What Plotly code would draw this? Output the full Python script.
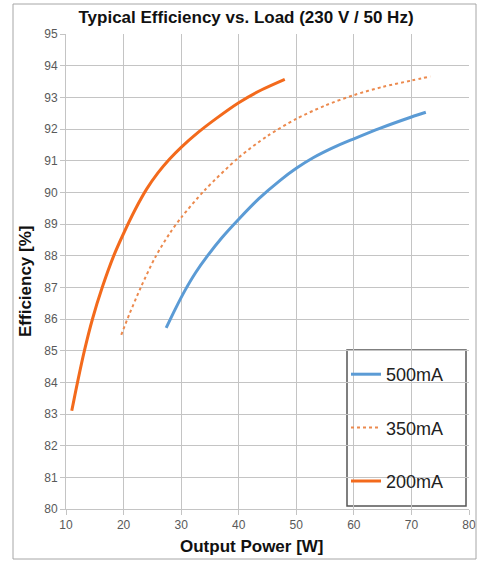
import plotly.graph_objects as go

# ---- data ----
x_500 = [27.4, 29, 30.6, 32.5, 34.6, 37, 40, 43.5, 47.2, 50, 53, 56.5, 60, 64.5, 70, 72.5]
y_500 = [85.72, 86.32, 86.88, 87.46, 88.0, 88.55, 89.15, 89.8, 90.38, 90.76, 91.1, 91.42, 91.69, 92.02, 92.38, 92.53]

x_350 = [19.6, 21, 23, 25.5, 28, 30, 34, 40, 45, 50, 55, 60, 65, 70, 73.3]
y_350 = [85.5, 86.15, 87.0, 87.95, 88.7, 89.2, 90.05, 91.1, 91.78, 92.32, 92.74, 93.07, 93.33, 93.53, 93.66]

x_200 = [11.0, 12.0, 13.2, 14.6, 16.3, 18.3, 20, 22, 24, 26, 28, 30, 33, 36, 40, 44, 48]
y_200 = [83.1, 84.0, 85.0, 86.0, 87.0, 88.0, 88.7, 89.45, 90.1, 90.62, 91.05, 91.42, 91.9, 92.32, 92.83, 93.24, 93.57]

series_names = ["500mA", "350mA", "200mA"]
x_ticks = [10, 20, 30, 40, 50, 60, 70, 80]
y_ticks = list(range(80, 96))

title_text = "Typical Efficiency vs. Load (230 V / 50 Hz)"
x_title = "Output Power [W]"
y_title = "Efficiency [%]"

# ---- figure ----
W, H = 478, 561
ML, MR, MT, MB = 66, 9, 34, 52
PW, PH = W - ML - MR, H - MT - MB

def px_x(p):
    return (p - ML) / PW

def px_y(p):
    return (H - MB - p) / PH

fig = go.Figure()
fig.add_trace(go.Scatter(x=x_500, y=y_500, mode="lines", name=series_names[0],
                         legendgroup="a",
                         line=dict(color="#5b9bd5", width=3, shape="spline", smoothing=0.8)))
fig.add_trace(go.Scatter(x=x_350, y=y_350, mode="lines", name=series_names[1],
                         legendgroup="b",
                         line=dict(color="#ec8a4e", width=2, dash="dot", shape="spline", smoothing=0.8)))
fig.add_trace(go.Scatter(x=x_200, y=y_200, mode="lines", name=series_names[2],
                         legendgroup="c",
                         line=dict(color="#f36a1c", width=3, shape="spline", smoothing=0.8)))

axis_common = dict(
    showgrid=True, gridcolor="#c4c4c4", gridwidth=1,
    showline=True, linecolor="#c4c4c4", linewidth=1,
    ticks="outside", ticklen=5, tickcolor="#c4c4c4",
    tickfont=dict(family="Liberation Sans", size=12, color="#595959"),
    zeroline=False, automargin=False,
)

fig.update_xaxes(range=[10, 80], tickvals=x_ticks, **axis_common)
fig.update_yaxes(range=[80, 95], tickvals=y_ticks, **axis_common)

title_font = dict(family="Liberation Sans", size=17, color="#111111", weight="bold")

fig.update_layout(
    width=W, height=H, autosize=False,
    margin=dict(l=ML, r=MR, t=MT, b=MB, pad=0),
    paper_bgcolor="white", plot_bgcolor="white",
    title=dict(text=title_text, x=246 / W, xanchor="center",
               y=1 - 17 / H, yanchor="middle", yref="container",
               font=title_font),
    showlegend=True,
    legend=dict(x=px_x(346), xanchor="left", y=px_y(428), yanchor="middle",
                bgcolor="rgba(0,0,0,0)", borderwidth=0, itemwidth=30,
                tracegroupgap=27, traceorder="grouped",
                font=dict(family="Liberation Sans", size=18, color="#222222")),
    annotations=[
        dict(text=x_title, xref="paper", yref="paper", x=px_x(252), y=px_y(546),
             xanchor="center", yanchor="middle", showarrow=False, font=title_font),
        dict(text=y_title, xref="paper", yref="paper", x=px_x(25), y=px_y(282),
             xanchor="center", yanchor="middle", showarrow=False, textangle=-90,
             font=title_font),
    ],
    shapes=[
        # legend frame
        dict(type="rect", xref="paper", yref="paper",
             x0=px_x(347), x1=px_x(466), y0=px_y(506), y1=px_y(350),
             line=dict(color="#555555", width=1.5), fillcolor="white", layer="below"),
        # outer chart frame
        dict(type="rect", xref="paper", yref="paper",
             x0=px_x(13), x1=px_x(476), y0=px_y(559), y1=px_y(4),
             line=dict(color="#a6a6a6", width=1), fillcolor="rgba(0,0,0,0)"),
    ],
)

fig.write_html("out.html",
               config={"displayModeBar": False},
               post_script="document.body.style.margin='0';document.body.style.padding='0';"
                           "document.body.style.overflow='hidden';")
